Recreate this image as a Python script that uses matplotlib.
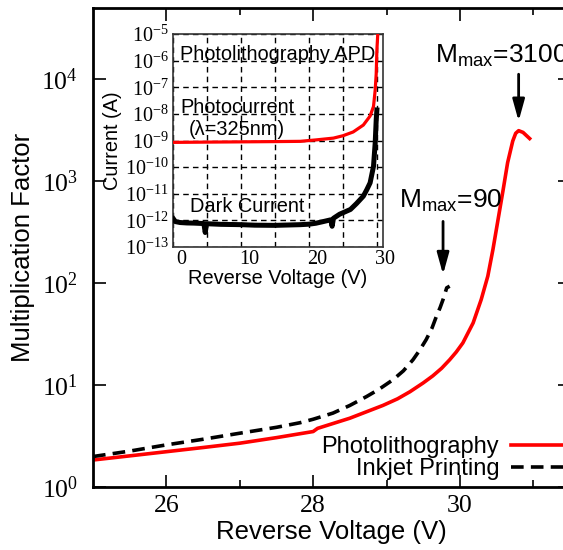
import matplotlib
matplotlib.use('Agg')
import matplotlib.pyplot as plt
import matplotlib.transforms as mtransforms
from matplotlib.ticker import FixedLocator, NullLocator, LogFormatterSciNotation

plt.rcParams['font.family'] = ['Liberation Sans', 'DejaVu Sans']
plt.rcParams['mathtext.fontset'] = 'custom'
plt.rcParams['mathtext.rm'] = 'Liberation Sans'
plt.rcParams['mathtext.it'] = 'Liberation Sans:italic'
plt.rcParams['axes.unicode_minus'] = False

# ---------------- main plot data ----------------
photo_v = [25.0, 25.5, 26.0, 26.5, 27.0, 27.5, 28.0, 28.06, 28.14, 28.5, 28.95, 29.15,
           29.32, 29.5, 29.63, 29.75, 29.86, 29.95, 30.04, 30.18, 30.29, 30.38, 30.45,
           30.52, 30.59, 30.65, 30.72, 30.76, 30.8, 30.86, 30.95]
photo_m = [1.84, 2.02, 2.22, 2.44, 2.69, 3.05, 3.50, 3.76, 3.92, 4.73, 6.31, 7.33,
           8.61, 10.5, 12.3, 14.6, 17.7, 21.1, 25.9, 40.7, 69.0, 117.0, 214.0,
           422.0, 832.0, 1520.0, 2480.0, 2950.0, 3130.0, 3010.0, 2620.0]

inkjet_v = [25.0, 25.5, 26.0, 26.5, 27.0, 27.5, 27.82, 28.0, 28.27, 28.5, 28.73, 28.9,
            29.09, 29.23, 29.36, 29.45, 29.54, 29.62, 29.68, 29.73, 29.77, 29.82, 29.86]
inkjet_m = [1.99, 2.25, 2.59, 2.94, 3.37, 3.85, 4.27, 4.62, 5.31, 6.31, 7.73, 9.12,
            11.3, 13.8, 17.7, 21.9, 27.9, 36.3, 47.3, 57.5, 69.0, 89.9, 93.3]

# ---------------- inset data ----------------
inset_photo_v = [0, 5, 10, 15, 18.7, 21, 23.6, 25, 26.5, 28, 29, 29.5, 29.75, 29.9,
                 30.0, 30.15]
inset_photo_i = [8.5e-10, 8.7e-10, 8.9e-10, 9.1e-10, 9.3e-10, 1.05e-9, 1.23e-9, 1.51e-9,
                 2.09e-9, 3.8e-9, 8.3e-9, 1.9e-8, 7.9e-8, 3.2e-7, 2.5e-6, 1.26e-5]

inset_dark_v = [0, 0.3, 1, 2, 3, 4.5, 4.7, 4.9, 7, 10, 12, 15, 18.7, 20, 21, 22, 23.2,
                23.4, 23.6, 24.5, 26.1, 27, 28, 28.5, 29, 29.5, 29.75, 29.9, 30.0]
inset_dark_i = [1.15e-12, 9.0e-13, 8.3e-13, 8.0e-13, 7.9e-13, 7.6e-13, 3.5e-13, 7.5e-13,
                7.1e-13, 6.9e-13, 6.6e-13, 6.5e-13, 6.9e-13, 7.2e-13, 7.8e-13, 8.9e-13,
                1.05e-12, 6.0e-13, 1.2e-12, 1.7e-12, 2.57e-12, 4.3e-12, 8.1e-12,
                1.4e-11, 2.57e-11, 1.07e-10, 8.1e-10, 6.0e-9, 1.4e-8]

# ---------------- figure ----------------
W, H = 563, 550
fig = plt.figure(figsize=(W / 100, H / 100), dpi=100)
ax = fig.add_axes([93 / W, 63 / H, (570 - 93) / W, 479 / H])

ax.plot(photo_v, photo_m, color='#ff0000', lw=2.6, label='Photolithography')
ax.plot(inkjet_v, inkjet_m, color='black', lw=2.6, ls=(0, (3.5, 2.0)),
        label='Inkjet Printing')
ax.set_yscale('log')
ax.set_xlim(25, 31.5)
ax.set_ylim(1, 5e4)
ax.xaxis.set_major_locator(FixedLocator([26, 28, 30]))
ax.xaxis.set_minor_locator(FixedLocator([27, 29, 31]))
ax.yaxis.set_major_locator(FixedLocator([1, 10, 100, 1000, 10000]))
ax.yaxis.set_major_formatter(LogFormatterSciNotation())
ax.yaxis.set_minor_locator(NullLocator())
ax.tick_params(which='both', direction='in', top=True, right=True, width=1.2,
               labelsize=18.5, labelfontfamily='Liberation Serif')
ax.tick_params(which='major', length=9)
ax.tick_params(which='minor', length=5)
ax.tick_params(axis='y', pad=11)
ax.tick_params(axis='x', pad=6)
for s in ax.spines.values():
    s.set_linewidth(2.0)
ax.set_xlabel('Reverse Voltage (V)', fontsize=18.5, labelpad=2)
ax.set_ylabel('Multiplication Factor', fontsize=18.5, labelpad=4)

arrow = dict(arrowstyle='-|>,head_length=0.65,head_width=0.18', color='black', lw=2.0,
             shrinkA=0, shrinkB=0, mutation_scale=20)
ax.annotate('', xy=(30.80, 3880), xytext=(30.80, 11200), arrowprops=arrow)
ax.text(29.66, 10 ** 4.164, r'M$_{\mathrm{max}}$=3100', fontsize=19, va='baseline', ha='left')
ax.annotate('', xy=(29.77, 121.6), xytext=(29.77, 403), arrowprops=arrow)
ax.text(29.17, 10 ** 2.743, r'M$_{\mathrm{max}}$=90', fontsize=19, va='baseline', ha='left')

leg = ax.legend(loc='lower right', bbox_to_anchor=(1.0, 0.015), frameon=False,
                markerfirst=False, fontsize=17, handlelength=2.5, handletextpad=0.5,
                labelspacing=0.0, borderpad=0.0, borderaxespad=0.0)

# ---------------- inset ----------------
axi = fig.add_axes([173 / W, (H - 247) / H, (383 - 173) / W, (247 - 34) / H])
axi.plot(inset_photo_v, inset_photo_i, color='#ff0000', lw=2.3, zorder=3)
axi.plot(inset_dark_v, inset_dark_i, color='black', lw=3.6, zorder=3)
axi.set_yscale('log')
axi.set_xlim(-0.05, 30.9)
axi.set_ylim(1e-13, 1e-5)
axi.xaxis.set_major_locator(FixedLocator([0, 10, 20, 30]))
axi.xaxis.set_minor_locator(FixedLocator([5, 15, 25]))
axi.yaxis.set_major_locator(FixedLocator([10.0 ** k for k in range(-13, -4)]))
axi.yaxis.set_major_formatter(LogFormatterSciNotation())
axi.yaxis.set_minor_locator(NullLocator())
axi.grid(True, which='both', axis='x', ls=(0, (4, 3)), color='black', lw=1.0)
axi.grid(True, which='major', axis='y', ls=(0, (4, 3)), color='black', lw=1.0)
axi.tick_params(which='both', length=0, labelsize=14.5, labelfontfamily='Liberation Serif')
axi.tick_params(axis='y', pad=3)
axi.tick_params(axis='x', pad=2)
for s in axi.spines.values():
    s.set_linewidth(1.2)
    s.set_color('#333333')
axi.set_xlabel('Reverse Voltage (V)', fontsize=14.4, labelpad=0)
axi.set_ylabel('Current (A)', fontsize=14.4, labelpad=2)

offset = mtransforms.ScaledTranslation(6 / 72, 0, fig.dpi_scale_trans)
for t in axi.xaxis.get_major_ticks():
    t.label1.set_transform(t.label1.get_transform() + offset)

axi.text(1.0, 10 ** -5.974, 'Photolithography APD', fontsize=14.4, va='baseline')
axi.text(1.0, 10 ** -7.97, 'Photocurrent', fontsize=14.4, va='baseline')
axi.text(2.2, 10 ** -8.78, '(λ=325nm)', fontsize=14.4, va='baseline')
axi.text(2.45, 10 ** -11.69, 'Dark Current', fontsize=14.4, va='baseline')

fig.savefig('out.png', dpi=100)
